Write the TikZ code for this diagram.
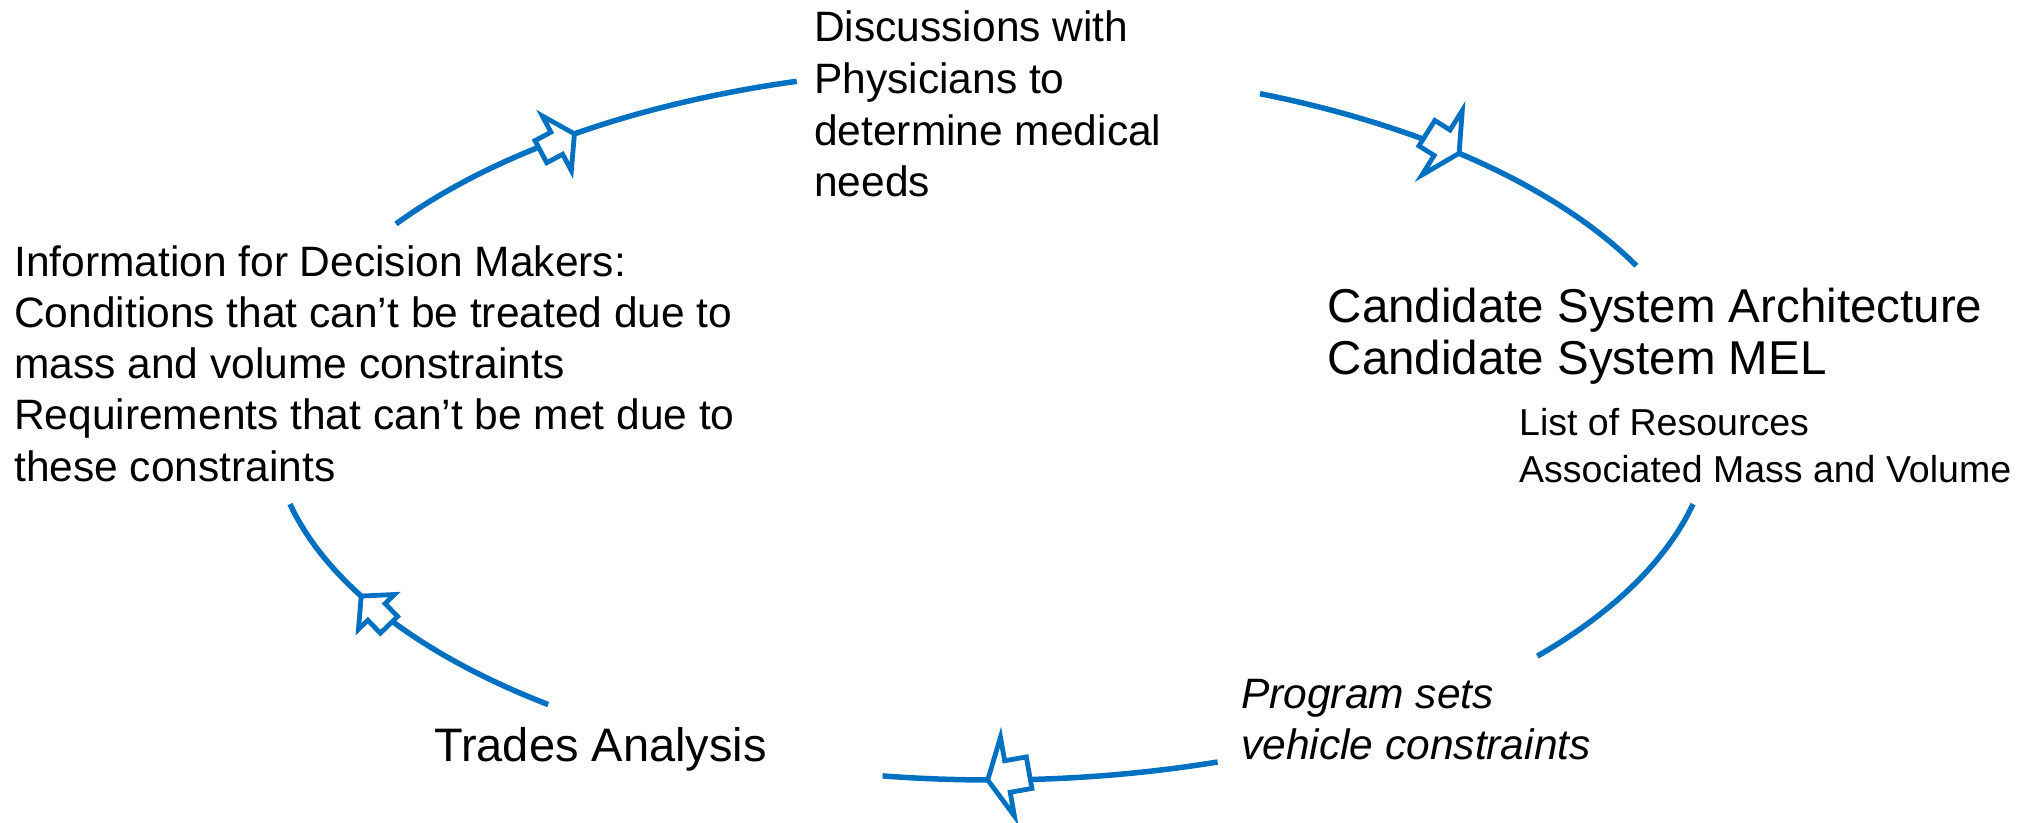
\documentclass[tikz,border=0pt]{standalone}
\usepackage{fontspec}
\setmainfont{Liberation Sans}
\definecolor{pptblue}{RGB}{0,112,192}
\newcommand{\hollowarrow}[6]{% tip, angle, head length, head half width, shaft half width, shaft length
  \draw[arrowbox, shift={(#1)}, rotate=#2]
    (0,0) -- (-#3,#4) -- (-#3,#5) -- ({-#3-#6},#5) -- ({-#3-#6},-#5) -- (-#3,-#5) -- (-#3,-#4) -- cycle;}
\begin{document}
\begin{tikzpicture}[x=1pt,y=-1pt,
  cyc/.style={draw=pptblue, line width=5.5pt},
  arrowbox/.style={draw=pptblue, fill=white, line width=4.8pt, line join=miter},
  lbl/.style={inner sep=0pt, anchor=base west, text=black}]
\useasboundingbox (0,0) rectangle (2025,822);

% cycle arcs (one ellipse, centre (991.5,424), radii 720 x 356)
\draw[cyc] plot[domain=214.2:254.3, samples=40, variable=\t] ({991.5+720*cos(\t)},{424+356*sin(\t)});
\draw[cyc] plot[domain=291.9:333.6, samples=40, variable=\t] ({991.5+720*cos(\t)},{424+356*sin(\t)});
\draw[cyc] plot[domain=13.0:40.7, samples=40, variable=\t] ({991.5+720*cos(\t)},{424+356*sin(\t)});
\draw[cyc] plot[domain=71.7:98.7, samples=40, variable=\t] ({991.5+720*cos(\t)},{424+356*sin(\t)});
\draw[cyc] plot[domain=128.0:167.0, samples=40, variable=\t] ({991.5+720*cos(\t)},{424+356*sin(\t)});

% arrow tips on the ellipse
\coordinate (a1) at ({991.5+720*cos(234.6)},{424+356*sin(234.6)});
\coordinate (a2) at ({991.5+720*cos(310.5)},{424+356*sin(310.5)});
\coordinate (a3) at ({991.5+720*cos(90.3)},{424+356*sin(90.3)});
\coordinate (a4) at ({991.5+720*cos(151.1)},{424+356*sin(151.1)});

\hollowarrow{a1}{28}{20}{31}{12.5}{18}
\hollowarrow{a2}{-32}{20}{38}{15}{18}
\hollowarrow{a3}{190}{20}{40}{16}{22}
\hollowarrow{a4}{134}{22}{25}{12}{18}

% texts
\node[lbl, font=\fontsize{42.5}{51.7}\selectfont] (disc) at (814,41.7)
  {\vtop{\hbox{Discussions with}\hbox{Physicians to}\hbox{determine medical}\hbox{needs}}};
\node[lbl, font=\fontsize{47.5}{52}\selectfont] (cand) at (1327.5,322.5)
  {\vtop{\hbox{Candidate System Architecture}\hbox{Candidate System MEL}}};
\node[lbl, font=\fontsize{37.5}{47.5}\selectfont] (res) at (1519,435)
  {\vtop{\hbox{List of Resources}\hbox{Associated Mass and Volume}}};
\node[lbl, font=\fontsize{42.5}{51.7}\selectfont\itshape] (prog) at (1241,708)
  {\vtop{\hbox{Program sets}\hbox{vehicle constraints}}};
\node[lbl, font=\fontsize{47}{56}\selectfont] (trades) at (434,761.7) {Trades Analysis};
\node[lbl, font=\fontsize{42.5}{51.3}\selectfont] (info) at (14,276)
  {\vtop{\hbox{Information for Decision Makers:}\hbox{Conditions that can’t be treated due to}\hbox{mass and volume constraints}\hbox{Requirements that can’t be met due to}\hbox{these constraints}}};
\end{tikzpicture}
\end{document}
